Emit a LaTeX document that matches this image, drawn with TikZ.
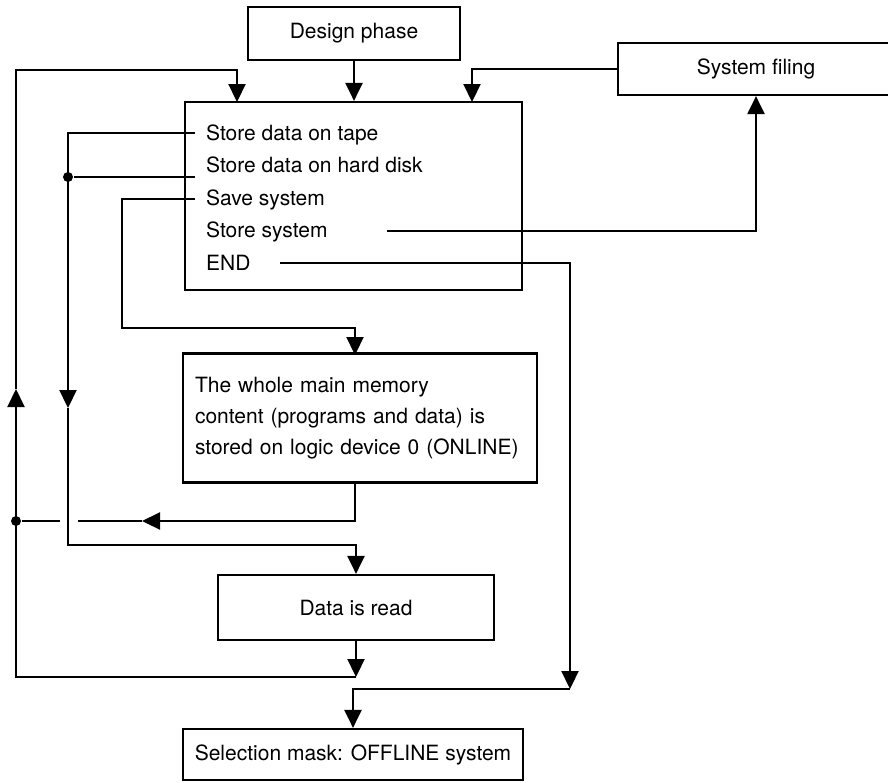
\documentclass[tikz,border=0pt]{standalone}
\usepackage{fontspec}
\setmainfont{TeX Gyre Heros}
\usetikzlibrary{arrows.meta}
\begin{document}
\begin{tikzpicture}[x=1pt,y=-1pt,
  line width=2.2pt,
  tip/.style={-{Triangle[length=18pt,width=17pt]}},
  box/.style={draw, line width=2.2pt, inner sep=0pt, font=\fontsize{21}{31}\selectfont},
  item/.style={anchor=base west, inner sep=0pt, font=\fontsize{21}{25}\selectfont},
  joint/.style={circle, fill, inner sep=0pt, minimum size=10pt}]
\useasboundingbox (0,0) rectangle (888,782);
\clip (0,0) rectangle (888,782);

% boxes
\node[box, minimum width=212pt, minimum height=53pt] (design) at (354,33.5) {Design phase};
\node[box, minimum width=337pt, minimum height=188pt] (main) at (353.5,196) {};
\node[box, minimum width=276pt, minimum height=52pt] (sys) at (756,69) {System filing};
\node[box, minimum width=354pt, minimum height=129pt, align=left, text width=330pt] (mem) at (360,418)
  {The whole main memory\\content (programs and data) is\\stored on logic device 0 (ONLINE)};
\node[box, minimum width=276pt, minimum height=65pt] (read) at (356,607.5) {Data is read};
\node[box, minimum width=340pt, minimum height=51pt] (sel) at (353,754.5) {Selection mask: OFFLINE system};

% menu entries
\node[item] (t1) at (205,140) {Store data on tape};
\node[item] (t2) at (205,172.5) {Store data on hard disk};
\node[item] (t3) at (205,205.5) {Save system};
\node[item] (t4) at (205,237.5) {Store system};
\node[item] (t5) at (205,270.5) {END};

% connector points
\coordinate (inL) at (237,102);
\coordinate (topL) at (237,70);
\coordinate (inR) at (472,102);
\coordinate (jread) at (356,677);
\coordinate (upA) at (16,389);
\coordinate (tape) at (195,133);
\coordinate (dnA) at (68,408);
\coordinate (tapeB) at (356,545);
\coordinate (hd) at (195,177);
\coordinate (save) at (195,199);
\coordinate (saveB) at (122,328);
\coordinate (memin) at (355,355);
\coordinate (memout) at (355,484);
\coordinate (lA) at (142,521);
\coordinate (gapR) at (78,521);
\coordinate (gapL) at (60,521);
\coordinate (ss) at (387,231);
\coordinate (endL) at (280,263);
\coordinate (jend) at (570,689);

\node[joint] (hdj) at (68,177) {};
\node[joint] (jmem) at (16,521) {};

% design phase into the menu
\draw[tip] (design.south) -- (design.south |- main.north);

% return loop on the left
\draw[tip] (read.south) -- (jread);
\draw[tip] (jread) -| (upA);
\draw[tip] (upA) |- (topL) -- (inL);

% system filing back into the menu
\draw[tip] (sys.west) -| (inR);
\draw[tip] (ss) -| (sys.south);

% tape / hard disk branch
\draw[tip] (tape) -| (dnA);
\draw[tip] (dnA) |- (tapeB) -- (read.north);
\draw (hd) -- (hdj);

% save system branch
\draw[tip] (save) -| (saveB) -| (memin);
\draw[tip] (memout) |- (lA);
\draw (lA) -- (gapR);
\draw (gapL) -- (jmem);

% end
\draw[tip] (endL) -| (jend);
\draw[tip] (jend) -| (sel.north);
\end{tikzpicture}
\end{document}
